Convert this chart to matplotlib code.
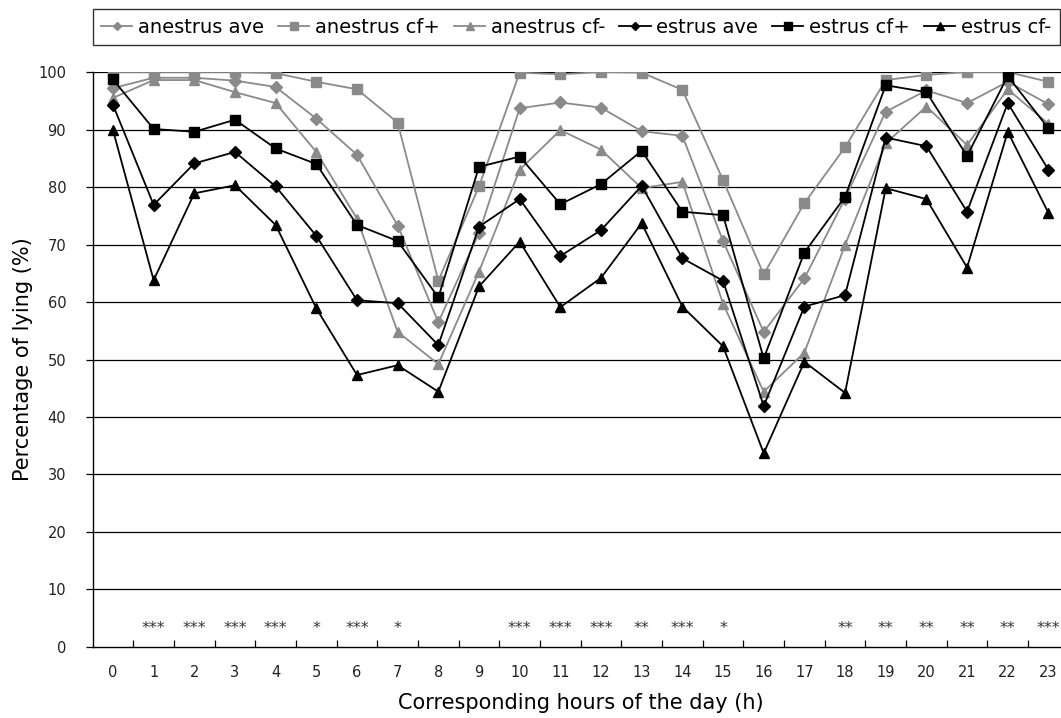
import matplotlib
matplotlib.use("Agg")
import matplotlib.pyplot as plt

hours = list(range(24))
anestrus_ave = [97.2, 99.0, 99.0, 98.5, 97.4, 91.9, 85.6, 73.3, 56.5, 72.0, 93.7, 94.7,
                93.8, 89.7, 88.9, 70.6, 54.8, 64.1, 78.0, 93.1, 96.8, 94.6, 98.3, 94.4]
anestrus_cfp = [100.0, 100.0, 100.0, 100.0, 99.8, 98.3, 97.0, 91.2, 63.7, 80.1, 99.9, 99.6,
                100.0, 99.9, 96.9, 81.2, 64.8, 77.2, 86.9, 98.6, 99.5, 100.0, 100.0, 98.3]
anestrus_cfm = [95.5, 98.6, 98.6, 96.5, 94.6, 86.1, 74.5, 54.8, 49.2, 65.3, 83.0, 89.9,
                86.5, 79.8, 80.9, 59.7, 44.4, 51.2, 69.9, 87.6, 94.0, 87.3, 97.0, 91.0]
estrus_ave = [94.3, 76.9, 84.1, 86.1, 80.1, 71.5, 60.3, 59.8, 52.5, 73.1, 77.9, 68.0,
              72.5, 80.2, 67.6, 63.7, 41.9, 59.2, 61.2, 88.6, 87.1, 75.7, 94.6, 83.0]
estrus_cfp = [98.7, 90.1, 89.6, 91.7, 86.7, 84.0, 73.4, 70.6, 60.8, 83.5, 85.3, 77.0,
              80.5, 86.3, 75.7, 75.1, 50.2, 68.6, 78.3, 97.7, 96.5, 85.4, 99.3, 90.2]
estrus_cfm = [89.9, 63.8, 78.9, 80.3, 73.4, 58.9, 47.3, 49.0, 44.4, 62.7, 70.5, 59.1,
              64.2, 73.7, 59.2, 52.3, 33.7, 49.6, 44.2, 79.8, 77.9, 66.0, 89.6, 75.5]
signif = ["", "***", "***", "***", "***", "*", "***", "*", "", "", "***", "***",
          "***", "**", "***", "*", "", "", "**", "**", "**", "**", "**", "***"]

grey = "#8a8a8a"
series = [
    ("anestrus ave", anestrus_ave, grey, "D", 6),
    ("anestrus cf+", anestrus_cfp, grey, "s", 7),
    ("anestrus cf-", anestrus_cfm, grey, "^", 7),
    ("estrus ave", estrus_ave, "black", "D", 6),
    ("estrus cf+", estrus_cfp, "black", "s", 7),
    ("estrus cf-", estrus_cfm, "black", "^", 7),
]

fig = plt.figure(figsize=(10.61, 7.18), dpi=100)
ax = fig.add_axes([0.0873, 0.0989, 0.920, 0.8008])

for y in range(10, 101, 10):
    ax.axhline(y, color="black", lw=0.9, zorder=1)

for lab, vals, c, m, ms in series:
    ax.plot(hours, vals, color=c, marker=m, ms=ms, lw=1.3, label=lab, zorder=3)

for h, s in zip(hours, signif):
    if s:
        ax.text(h, 3.2, s, ha="center", va="center", fontsize=11.5, color="#333333")

ax.set_xlim(-0.5, 23.5)
ax.set_ylim(0, 100)
ax.set_yticks(range(0, 101, 10))
ax.set_xticks([h + 0.5 for h in hours[:-1]], minor=False)
ax.set_xticklabels([])
ax.set_xticks(hours, minor=True)
ax.set_xticklabels([str(h) for h in hours], minor=True)
ax.tick_params(axis="x", which="major", direction="in", length=5, width=0.9)
ax.tick_params(axis="x", which="minor", length=0, pad=13, labelsize=10.5, labelcolor="#222222")
ax.tick_params(axis="y", direction="out", length=5, width=0.9, labelsize=10.5, pad=14,
               labelcolor="#222222")
for sp in ["top", "right"]:
    ax.spines[sp].set_visible(False)
for sp in ["left", "bottom"]:
    ax.spines[sp].set_linewidth(1.0)

ax.set_xlabel("Corresponding hours of the day (h)", fontsize=15, labelpad=9)
ax.set_ylabel("Percentage of lying (%)", fontsize=15, labelpad=4)

leg = fig.legend(loc="upper left", bbox_to_anchor=(0.0873, 0.9875), ncol=6, fontsize=14,
                 frameon=True, fancybox=False, edgecolor="black", handlelength=1.6,
                 handletextpad=0.3, columnspacing=0.72, borderpad=0.45, markerscale=0.75,
                 borderaxespad=0)
leg.get_frame().set_linewidth(1.0)

fig.savefig("out.png", dpi=100)
